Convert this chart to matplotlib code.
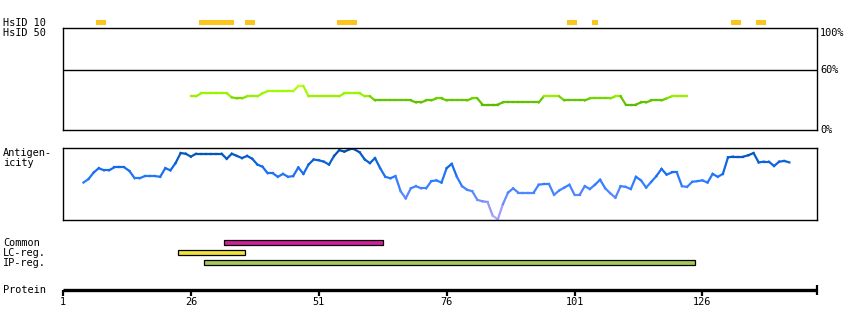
"""
Protein feature overview: HsID identity track, antigenicity profile,
region bars and a residue ruler, stacked on a common residue axis.
"""
import numpy as np
import matplotlib
matplotlib.use("Agg")
import matplotlib.pyplot as plt
from matplotlib.collections import LineCollection
from matplotlib.colors import LinearSegmentedColormap, Normalize

# --- data ---------------------------------------------------------------
protein_end = 148.4
ruler_ticks = [1, 26, 51, 76, 101, 126]

# HsID 10 hits (first / last residue)
hsid10_start = [8, 28, 37, 55, 100, 105, 132, 137]
hsid10_end = [9, 34, 38, 58, 101, 105, 133, 138]

# HsID 50 identity (%) for residues 26..123
hsid50_first = 26
hsid50 = [33, 33,
          36, 36, 36, 36, 36, 36,
          32,
          31, 31,
          33, 33, 33,
          36,
          38, 38, 38, 38, 38, 38,
          43, 43,
          33, 33, 33, 33, 33, 33, 33,
          36, 36, 36, 36,
          33, 33,
          29, 29, 29, 29, 29, 29, 29, 29,
          27, 27,
          29, 29,
          31, 31,
          29, 29, 29, 29, 29,
          31, 31,
          25, 25, 25, 25,
          27, 27, 27, 27, 27, 27, 27, 27,
          33, 33, 33, 33,
          29, 29, 29, 29, 29,
          31, 31, 31, 31, 31,
          33, 33,
          25, 25, 25,
          27, 27,
          29, 29, 29,
          31,
          33, 33, 33, 33]

# antigenicity score (0-100) for residues 5..143
antigen_first = 5
antigen = [52, 57, 66, 72, 69, 69, 73, 73, 73, 68,
           58, 58, 61, 61, 61, 60, 72, 69, 79, 93,
           92, 88, 92, 92, 92, 92, 92, 92, 85, 92,
           89, 86, 89, 85, 77, 74, 65, 65, 60, 64,
           60, 61, 73, 64, 77, 84, 83, 81, 77, 89,
           97, 95, 98, 98, 94, 84, 79, 86, 72, 60,
           58, 61, 40, 30, 44, 47, 44, 44, 54, 55,
           52, 72, 78, 60, 47, 42, 40, 28, 26, 25,
           6, 1, 22, 38, 44, 38, 38, 38, 38, 49,
           50, 50, 35, 41, 45, 49, 35, 35, 47, 43,
           49, 56, 44, 37, 31, 47, 46, 43, 60, 55,
           45, 53, 61, 71, 63, 66, 66, 47, 46, 53,
           54, 55, 52, 64, 60, 64, 87, 88, 88, 88,
           90, 93, 80, 81, 81, 75, 81, 82, 80]

region_names = ["Common", "LC-reg.", "IP-reg."]
region_start = [33, 24, 29]
region_end = [63, 36, 124]
region_colors = ["#d0209a", "#f2e23c", "#a6c85a"]

# --- layout helpers -----------------------------------------------------
W, H = 850, 330
fig = plt.figure(figsize=(W / 100, H / 100), dpi=100)
FONT = dict(family="DejaVu Sans Mono", fontsize=7.4, color="black")


def px_axes(x0, y0, x1, y1):
    return fig.add_axes([x0 / W, 1 - y1 / H, (x1 - x0) / W, (y1 - y0) / H])


def label(y, text):
    fig.text(3 / W, 1 - y / H, text, va="center", ha="left", **FONT)


def colored_line(ax, x, y, cmap, norm, lw):
    pts = np.column_stack([x, y]).reshape(-1, 1, 2)
    segs = np.concatenate([pts[:-1], pts[1:]], axis=1)
    lc = LineCollection(segs, cmap=cmap, norm=norm, linewidths=lw,
                        capstyle="projecting", joinstyle="miter")
    lc.set_array((np.asarray(y[:-1]) + np.asarray(y[1:])) / 2)
    ax.add_collection(lc)


def strip(ax):
    ax.set_xlim(1, protein_end)
    ax.set_xticks([])
    ax.set_yticks([])


# --- HsID 10 strip ------------------------------------------------------
ax10 = px_axes(63, 20, 817, 25)
strip(ax10)
ax10.set_ylim(0, 1)
ax10.axis("off")
ax10.broken_barh([(s - 0.5, e - s + 1) for s, e in zip(hsid10_start, hsid10_end)],
                 (0, 1), facecolors="#fcc41e")
label(22.5, "HsID 10")
label(32.5, "HsID 50")

# --- HsID 50 panel ------------------------------------------------------
ax50 = px_axes(63, 28, 817, 130)
strip(ax50)
ax50.set_ylim(0, 100)
for sp in ax50.spines.values():
    sp.set_linewidth(1.0)
ax50.axhline(58.5, color="black", lw=1.0)
green = LinearSegmentedColormap.from_list(
    "green", [(0, "#5cbc00"), (0.25, "#66c800"), (0.4, "#96f000"),
              (0.6, "#9cf800"), (1, "#ccff22")])
x50 = np.arange(hsid50_first, hsid50_first + len(hsid50))
colored_line(ax50, x50, hsid50, green, Normalize(25, 45), 1.6)
ty = ax50.get_yaxis_transform()
ax50.text(1.004, 100, "100%", transform=ty, va="top", **FONT)
ax50.text(1.004, 58.5, "60%", transform=ty, va="center", **FONT)
ax50.text(1.004, 0, "0%", transform=ty, va="center", **FONT)

# --- antigenicity panel -------------------------------------------------
axa = px_axes(63, 148, 817, 220)
strip(axa)
axa.set_ylim(0, 100)
for sp in axa.spines.values():
    sp.set_linewidth(1.0)
blue = LinearSegmentedColormap.from_list(
    "blue", [(0, "#bca8ff"), (0.25, "#7a8eff"), (0.4, "#4a86ff"),
             (0.55, "#2a7cff"), (0.75, "#1068e6"), (1, "#004ea6")])
xa = np.arange(antigen_first, antigen_first + len(antigen))
colored_line(axa, xa, antigen, blue, Normalize(0, 100), 1.6)
label(153, "Antigen-")
label(163, "icity")

# --- region bars --------------------------------------------------------
axr = px_axes(63, 236.5, 817, 268.5)
strip(axr)
axr.axis("off")
axr.set_ylim(2.6, -0.6)
for i, (s, e, c) in enumerate(zip(region_start, region_end, region_colors)):
    axr.barh(i, e - s + 1, left=s - 0.5, height=0.42, color=c,
             edgecolor="black", linewidth=0.9)
for i, name in enumerate(region_names):
    label(242.5 + 10 * i, name)

# --- protein ruler ------------------------------------------------------
axp = px_axes(63, 280, 817, 289.5)
axp.set_xlim(1, protein_end)
axp.set_ylim(0, 1)
axp.set_yticks([])
for side in ["top", "left", "right"]:
    axp.spines[side].set_visible(False)
axp.spines["bottom"].set_linewidth(2.4)
axp.spines["bottom"].set_capstyle("butt")
axp.set_xticks(ruler_ticks)
axp.set_xticklabels([str(t) for t in ruler_ticks], family="DejaVu Sans Mono",
                    fontsize=7.4)
axp.tick_params(axis="x", length=4, width=1.6, pad=1.5, direction="out")
axp.set_xticks([protein_end], minor=True)
axp.tick_params(axis="x", which="minor", length=7, width=1.6, direction="inout")
axp.patch.set_alpha(0)
label(290, "Protein")

fig.savefig("out.png", dpi=100)
